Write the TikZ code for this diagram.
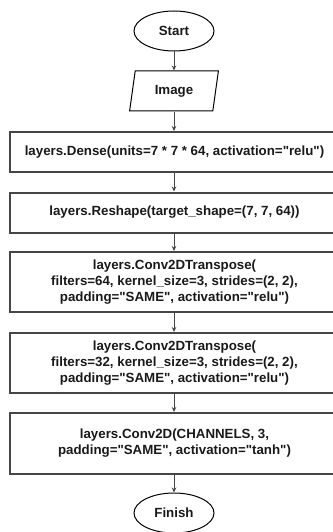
\documentclass[tikz,border=0pt]{standalone}
\usepackage{fontspec}
\setmainfont{Liberation Sans}
\usepackage{tikz}
\usetikzlibrary{shapes.geometric,arrows.meta}
\definecolor{boxline}{RGB}{70,70,70}
\definecolor{txt}{RGB}{25,25,25}

\begin{document}
\begin{tikzpicture}[x=1pt,y=1pt,
		font=\fontsize{13.3}{16}\selectfont\bfseries, text=txt,
		term/.style={draw, ellipse, line width=1pt, minimum width=80, minimum height=40, inner sep=0pt},
		io/.style={draw, trapezium, trapezium left angle=77, trapezium right angle=103, trapezium stretches=true, line width=1pt, minimum width=89, minimum height=40, inner sep=0pt},
		layer/.style={draw=boxline, line width=2pt, minimum width=330, inner sep=0pt, align=center},
		flow/.style={draw=boxline, line width=0.8pt, -{Stealth[length=5pt,width=4.5pt]}}]
			\useasboundingbox (0,0) rectangle (332,-532);
			\node [term] (start) at (174,-31) {Start};
			\node [io] (img) at (174,-91) {Image};
			\node [layer, minimum height=40] (dense) at (174.5,-152) {layers.Dense(units=7 * 7 * 64, activation=\textquotedbl relu\textquotedbl)};
			\node [layer, minimum height=40] (reshape) at (174.5,-212.5) {layers.Reshape(target\_shape=(7, 7, 64))};
			\node [layer, minimum height=60] (convta) at (174.5,-282) {layers.Conv2DTranspose(\\filters=64, kernel\_size=3, strides=(2, 2),\\padding=\textquotedbl SAME\textquotedbl, activation=\textquotedbl relu\textquotedbl)};
			\node [layer, minimum height=60] (convtb) at (174.5,-363) {layers.Conv2DTranspose(\\filters=32, kernel\_size=3, strides=(2, 2),\\padding=\textquotedbl SAME\textquotedbl, activation=\textquotedbl relu\textquotedbl)};
			\node [layer, minimum height=61] (conv) at (174.5,-443.5) {layers.Conv2D(CHANNELS, 3,\\padding=\textquotedbl SAME\textquotedbl, activation=\textquotedbl tanh\textquotedbl)};
			\node [term] (finish) at (174,-513) {Finish};

			\draw [flow] (start) -- (img);
			\draw [flow] (img) -- (img |- dense.north);
			\draw [flow] (img |- dense.south) -- (img |- reshape.north);
			\draw [flow] (img |- reshape.south) -- (img |- convta.north);
			\draw [flow] (img |- convta.south) -- (img |- convtb.north);
			\draw [flow] (img |- convtb.south) -- (img |- conv.north);
			\draw [flow] (img |- conv.south) -- (finish);
\end{tikzpicture}
\end{document}
